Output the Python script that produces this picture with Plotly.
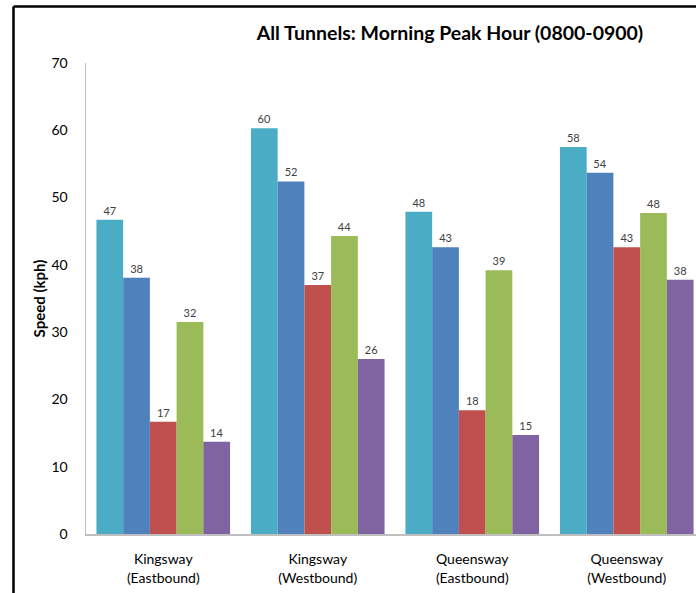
import plotly.graph_objects as go

categories = ["Kingsway<br>(Eastbound)", "Kingsway<br>(Westbound)",
              "Queensway<br>(Eastbound)", "Queensway<br>(Westbound)"]
series_a = [46.7, 60.3, 47.9, 57.5]
series_b = [38.1, 52.4, 42.6, 53.7]
series_c = [16.7, 37.0, 18.4, 42.6]
series_d = [31.5, 44.3, 39.2, 47.7]
series_e = [13.7, 26.0, 14.7, 37.8]
series_values = [series_a, series_b, series_c, series_d, series_e]
colors = ["#4BACC6", "#4F81BD", "#C0504D", "#9BBB59", "#8064A2"]
y_ticks = [0, 10, 20, 30, 40, 50, 60, 70]

FONT = "Lato, Open Sans, sans-serif"
W, H = 696, 593
L, R, T, B = 86, 0, 63, 59
PW, PH = W - L - R, H - T - B
GROUP_PX = 154.5

fig = go.Figure()
for vals, col in zip(series_values, colors):
    fig.add_trace(go.Bar(
        x=categories, y=vals, marker=dict(color=col, line=dict(width=0)),
        text=[f"{v:.0f}" for v in vals], textposition="outside",
        textfont=dict(size=11, color="#404040", family=FONT),
        cliponaxis=False, showlegend=False,
    ))

fig.update_layout(
    width=W, height=H,
    margin=dict(l=L, r=R, t=T, b=B, autoexpand=False),
    paper_bgcolor="white", plot_bgcolor="white",
    barmode="group", bargap=0.135, bargroupgap=0,
    font=dict(family=FONT, color="#000000"),
    title=dict(text="<b>All Tunnels: Morning Peak Hour (0800-0900)</b>",
               x=450 / W, xanchor="center", y=1 - 33 / H, yanchor="middle",
               font=dict(size=19.5, color="#000000", family=FONT)),
    xaxis=dict(range=[-0.5, -0.5 + PW / GROUP_PX], showline=True, linecolor="#BFBFBF",
               linewidth=1.5, ticks="", tickfont=dict(size=14, color="#000000"),
               showgrid=False, ticklabelstandoff=12, automargin=False, fixedrange=True),
    yaxis=dict(range=[0, 70], tickvals=y_ticks, showline=True, linecolor="#BFBFBF",
               linewidth=1.5, ticks="", showgrid=False, zeroline=False,
               tickfont=dict(size=14, color="#000000"), ticklabelstandoff=14,
               automargin=False, fixedrange=True,
               title=dict(text="<b>Speed (kph)</b>", font=dict(size=15, color="#000000"),
                          standoff=2)),
    shapes=[
        dict(type="line", xref="paper", yref="paper",
             x0=(13.5 - L) / PW, x1=(13.5 - L) / PW, y0=-0.5, y1=(PH + T - 6.5) / PH,
             line=dict(color="#000000", width=2.5), layer="above"),
        dict(type="line", xref="paper", yref="paper",
             x0=(13.5 - L) / PW, x1=1.5, y0=(PH + T - 6.5) / PH, y1=(PH + T - 6.5) / PH,
             line=dict(color="#000000", width=2.5), layer="above"),
    ],
)

fig.write_html(
    "out.html",
    config={"displayModeBar": False, "staticPlot": True},
    post_script=(
        "var s=document.createElement('style');"
        "s.textContent='html,body{margin:0;padding:0;overflow:hidden;scrollbar-width:none;}"
        "::-webkit-scrollbar{display:none;width:0;height:0;}';"
        "document.head.appendChild(s);"
    ),
)
